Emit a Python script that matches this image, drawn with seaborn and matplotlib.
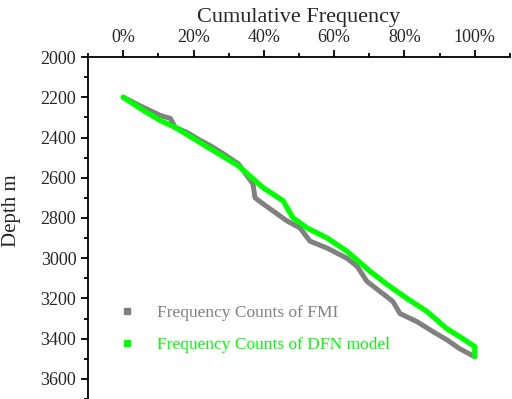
import matplotlib
matplotlib.use("Agg")
import matplotlib.pyplot as plt
import seaborn as sns
import pandas as pd
from matplotlib.lines import Line2D
from matplotlib.ticker import MultipleLocator, PercentFormatter

# Cumulative frequency (fraction) vs depth (m)
fmi_freq = [0.0, 0.057, 0.105, 0.134, 0.148, 0.182, 0.210, 0.247, 0.284, 0.327,
            0.369, 0.375, 0.398, 0.426, 0.466, 0.503, 0.531, 0.580, 0.636, 0.665,
            0.693, 0.730, 0.767, 0.787, 0.835, 0.881, 0.920, 0.957, 1.0]
fmi_depth = [2200, 2250, 2290, 2305, 2350, 2375, 2405, 2440, 2480, 2530,
             2630, 2700, 2730, 2765, 2815, 2850, 2915, 2950, 3000, 3040,
             3115, 3165, 3215, 3275, 3315, 3365, 3405, 3450, 3490]

dfn_freq = [0.0, 0.057, 0.105, 0.148, 0.247, 0.327, 0.369, 0.398, 0.455, 0.483,
            0.523, 0.580, 0.636, 0.702, 0.750, 0.807, 0.864, 0.920, 0.957, 1.0, 1.0]
dfn_depth = [2200, 2265, 2315, 2350, 2455, 2540, 2605, 2650, 2715, 2800,
             2850, 2900, 2965, 3065, 3130, 3200, 3265, 3350, 3390, 3440, 3490]

labels = ["Frequency Counts of FMI", "Frequency Counts of DFN model"]
colors = ["#808080", "#00ff00"]

sns.set_style("ticks")
plt.rcParams['font.family'] = ['Liberation Serif', 'DejaVu Serif']

fig = plt.figure(figsize=(5.12, 3.99), dpi=100)
ax = fig.add_axes([0.172, 0.0, 0.824, 0.857])

df_fmi = pd.DataFrame({'freq': fmi_freq, 'depth': fmi_depth})
df_dfn = pd.DataFrame({'freq': dfn_freq, 'depth': dfn_depth})
sns.lineplot(data=df_fmi, x='freq', y='depth', sort=False, estimator=None,
             color=colors[0], lw=3.6, ax=ax)
sns.lineplot(data=df_dfn, x='freq', y='depth', sort=False, estimator=None,
             color=colors[1], lw=3.8, ax=ax)

ax.set_xlim(-0.1, 1.1)
ax.set_ylim(3700, 2000)
ax.xaxis.set_major_locator(MultipleLocator(0.2))
ax.xaxis.set_minor_locator(MultipleLocator(0.1))
ax.xaxis.set_major_formatter(PercentFormatter(1.0, decimals=0))
ax.yaxis.set_major_locator(MultipleLocator(200))
ax.yaxis.set_minor_locator(MultipleLocator(100))
ax.xaxis.tick_top()
ax.xaxis.set_label_position('top')
ax.tick_params(axis='both', which='major', length=5, width=1.3,
               labelsize=13, direction='out', color='black')
ax.tick_params(axis='both', which='minor', length=3, width=1.3,
               direction='out', color='black')
ax.tick_params(axis='x', pad=3)

for s in ['bottom', 'right']:
    ax.spines[s].set_visible(False)
for s in ['top', 'left']:
    ax.spines[s].set_linewidth(1.3)
    ax.spines[s].set_color('black')

ax.set_xlabel("Cumulative Frequency", fontsize=16, labelpad=5)
ax.set_ylabel("Depth m", fontsize=15)
ax.yaxis.set_label_coords(-0.16, 0.55)

handles = [Line2D([], [], marker='s', ls='none', color=c, markersize=4)
           for c in colors]
leg = ax.legend(handles, labels, loc='lower left', bbox_to_anchor=(0.035, 0.09),
                frameon=False, fontsize=12.5, handletextpad=1.2,
                labelspacing=0.9, handlelength=1.0)
for t, c in zip(leg.get_texts(), colors):
    t.set_color(c)

fig.savefig("out.png", dpi=100)
